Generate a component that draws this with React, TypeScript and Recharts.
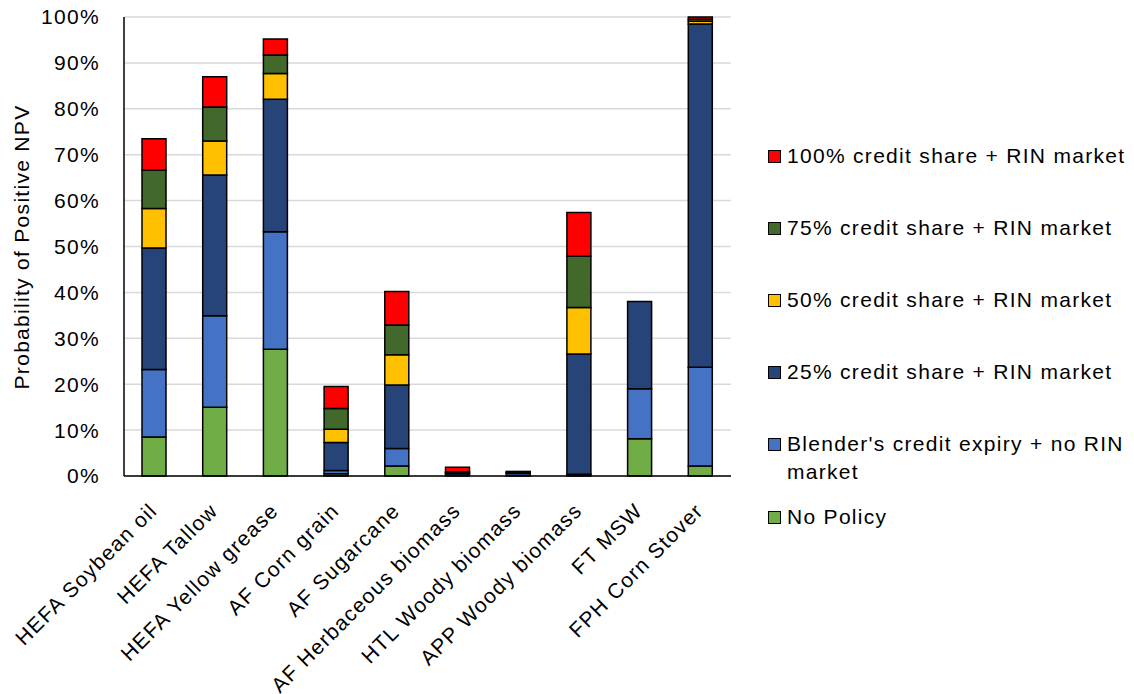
import React from 'react';
import { BarChart, Bar, XAxis, YAxis, CartesianGrid, Legend } from 'recharts';

const categories = [
  'HEFA Soybean oil',
  'HEFA Tallow',
  'HEFA Yellow grease',
  'AF Corn grain',
  'AF Sugarcane',
  'AF Herbaceous biomass',
  'HTL Woody biomass',
  'APP Woody biomass',
  'FT MSW',
  'FPH Corn Stover',
];

// probability of positive NPV, % per policy scenario (stack order bottom -> top)
const noPolicy = [8.5, 15.0, 27.6, 0.5, 2.2, 0, 0, 0.2, 8.1, 2.2];
const blenderExpiry = [14.7, 19.9, 25.6, 0.7, 3.8, 0, 0, 0.2, 10.9, 21.5];
const credit25 = [26.5, 30.7, 28.9, 6.1, 13.8, 0.5, 0.6, 26.2, 19.0, 74.8];
const credit50 = [8.6, 7.4, 5.6, 2.9, 6.6, 0.2, 0.2, 10.1, 0, 0.6];
const credit75 = [8.3, 7.4, 4.0, 4.5, 6.5, 0.2, 0.2, 11.2, 0, 0.4];
const credit100 = [6.9, 6.6, 3.5, 4.8, 7.3, 1.0, 0, 9.5, 0, 0.5];

const yTicks = [0, 10, 20, 30, 40, 50, 60, 70, 80, 90, 100];

const series = [
  { key: 'noPolicy', name: 'No Policy', color: '#70AD47', values: noPolicy },
  { key: 'blender', name: "Blender's credit expiry + no RIN market", color: '#4472C4', values: blenderExpiry },
  { key: 'c25', name: '25% credit share + RIN market', color: '#264478', values: credit25 },
  { key: 'c50', name: '50% credit share + RIN market', color: '#FFC000', values: credit50 },
  { key: 'c75', name: '75% credit share + RIN market', color: '#43682B', values: credit75 },
  { key: 'c100', name: '100% credit share + RIN market', color: '#FF0000', values: credit100 },
];

const data = categories.map((name, i) => {
  const row: Record<string, string | number> = { name };
  series.forEach((s) => {
    row[s.key] = s.values[i];
  });
  return row;
});

const FONT = '"Liberation Sans", Arial, Helvetica, sans-serif';
const FS = 21;
const LS = 1.3;

const AngledTick = (props: any) => {
  const { x, y, payload } = props;
  const ax = x + 4;
  const ay = y + 34;
  return (
    <text
      x={ax}
      y={ay}
      transform={`rotate(-45, ${ax}, ${ay})`}
      textAnchor="end"
      fontSize={FS}
      fontFamily={FONT}
      letterSpacing={LS}
      fill="#000"
    >
      {payload.value}
    </text>
  );
};

const LegendContent = () => {
  const items = [...series].reverse();
  return (
    <div style={{ fontFamily: FONT, fontSize: FS, letterSpacing: LS, color: '#000' }}>
      {items.map((s) => (
        <div
          key={s.key}
          style={{
            display: 'flex',
            alignItems: 'flex-start',
            lineHeight: '28px',
            marginBottom: s.key === 'blender' ? 17 : 44,
          }}
        >
          <span
            style={{
              display: 'inline-block',
              width: 11,
              height: 11,
              background: s.color,
              border: '1px solid #000',
              marginTop: 8,
              marginRight: 6,
              flex: 'none',
            }}
          />
          <span style={{ width: 345 }}>{s.name}</span>
        </div>
      ))}
    </div>
  );
};

export default function App() {
  return (
    <div style={{ position: 'absolute', left: 0, top: 0, background: '#fff' }}>
      <BarChart
        width={1134}
        height={694}
        data={data}
        margin={{ top: 17, right: 37, bottom: 0, left: 0 }}
        barSize={24}
      >
        <CartesianGrid vertical={false} stroke="#d9d9d9" strokeWidth={1.5} />
        <XAxis
          dataKey="name"
          interval={0}
          height={218}
          tickLine={false}
          tickSize={0}
          axisLine={{ stroke: '#000', strokeWidth: 1.5 }}
          tick={<AngledTick />}
        />
        <YAxis
          width={124}
          domain={[0, 100]}
          ticks={yTicks}
          tickFormatter={(v) => `${v}%`}
          tickLine={false}
          tickSize={0}
          tickMargin={24}
          axisLine={{ stroke: '#000', strokeWidth: 1.5 }}
          tick={{ fill: '#000', fontSize: FS, fontFamily: FONT, letterSpacing: LS }}
          label={{
            content: () => (
              <text
                x={21}
                y={247}
                transform="rotate(-90, 21, 247)"
                textAnchor="middle"
                dominantBaseline="central"
                fontSize={FS}
                fontFamily={FONT}
                letterSpacing={LS}
                fill="#000"
              >
                Probability of Positive NPV
              </text>
            ),
          }}
        />
        <Legend
          layout="vertical"
          verticalAlign="top"
          align="right"
          content={<LegendContent />}
          wrapperStyle={{ left: 768, top: 142, width: 366 }}
        />
        {series.map((s) => (
          <Bar
            key={s.key}
            dataKey={s.key}
            name={s.name}
            stackId="a"
            fill={s.color}
            stroke="#000"
            strokeWidth={1.5}
            isAnimationActive={false}
          />
        ))}
      </BarChart>
    </div>
  );
}
